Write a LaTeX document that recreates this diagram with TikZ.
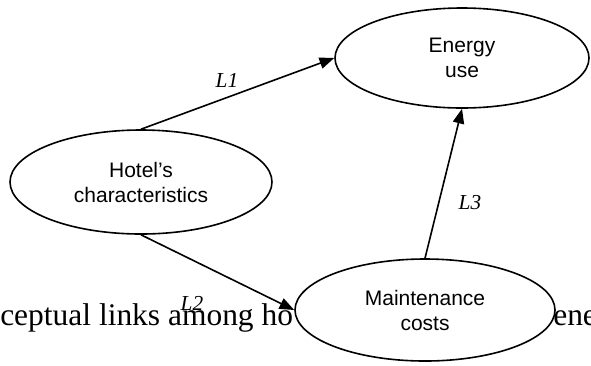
\documentclass[tikz,border=0pt]{standalone}
\usepackage{fontspec}
\setmainfont{Liberation Serif}
\newfontfamily\arialfont{Liberation Sans}
\usetikzlibrary{shapes.geometric, arrows.meta}

\begin{document}
\begin{tikzpicture}[x=0.75pt, y=-0.75pt,
	oval/.style={ellipse, draw, line width=1.2pt, fill=white, inner sep=0pt, align=center, font=\arialfont\fontsize{15.75}{18.75}\selectfont},
	link/.style={line width=1.2pt, -{Triangle[length=11pt, width=8.5pt]}},
	linklabel/.style={inner sep=0pt, font=\itshape\fontsize{16}{19}\selectfont},
	caption/.style={anchor=base west, inner sep=0pt, font=\fontsize{23.6}{28}\selectfont}]
	\useasboundingbox (0,0) rectangle (591,365);
	% caption text behind the diagram
	\node[caption] (capleft) at (0,325) {ceptual links among ho};
	\node[caption] (capright) at (553,325) {ene};
	% the three ovals
	\node[oval, minimum width=190.5pt, minimum height=75pt] (energy) at (462,58) {Energy\\use};
	\node[oval, minimum width=196.5pt, minimum height=78pt] (hotel) at (141,182) {Hotel’s\\characteristics};
	\node[oval, minimum width=195pt, minimum height=76.5pt] (maint) at (425,310) {Maintenance\\costs};
	% links
	\draw[link] (hotel.north) -- (energy.west);
	\draw[link] (hotel.south) -- (maint.west);
	\draw[link] (maint.north) -- (energy.south);
	\node[linklabel] (lone) at (227,80) {L1};
	\node[linklabel] (ltwo) at (192,303) {L2};
	\node[linklabel] (lthree) at (470,203) {L3};
\end{tikzpicture}
\end{document}
